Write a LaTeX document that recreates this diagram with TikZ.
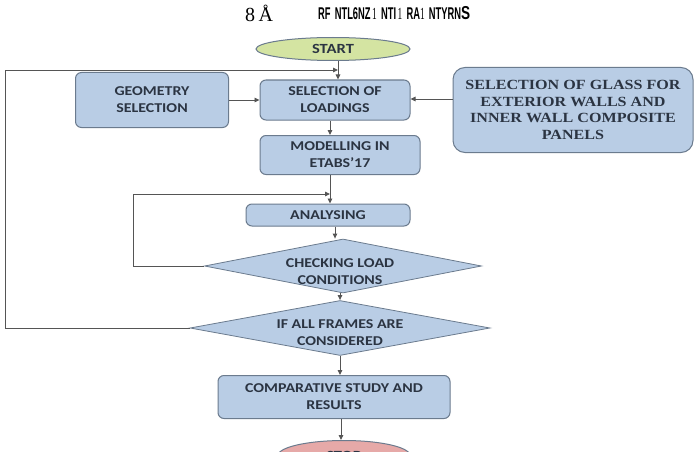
\documentclass[tikz,border=0pt]{standalone}
\usepackage{fontspec}
\setmainfont{Carlito}
\newfontfamily\boxf[FakeStretch=1.18]{Carlito}
\newfontfamily\timesf[FakeStretch=1.15]{Liberation Serif}
\newfontfamily\timesplain{Liberation Serif}
\newfontfamily\titlef{Liberation Sans}
\usetikzlibrary{arrows.meta,shapes.geometric}
\definecolor{boxfill}{HTML}{B9CDE5}
\definecolor{boxline}{HTML}{6B7B8E}
\definecolor{txt}{HTML}{2B3442}
\definecolor{startfill}{HTML}{D4E4A2}
\definecolor{stopfill}{HTML}{E6A9A8}
\definecolor{wire}{HTML}{555555}
\tikzset{
  procbox/.style={draw=boxline, fill=boxfill, rounded corners=6pt, line width=1pt,
    text=txt, align=center, font=\boxf\bfseries\fontsize{13.5}{17}\selectfont, inner sep=0pt},
  decbox/.style={draw=boxline, fill=boxfill, diamond, line width=0.8pt, inner sep=0pt},
  dectext/.style={text=txt, align=center, font=\boxf\bfseries\fontsize{13.5}{17}\selectfont},
  termin/.style={draw=boxline, ellipse, line width=1pt, text=txt, font=\boxf\bfseries\fontsize{14}{16}\selectfont, inner sep=0pt},
  wireline/.style={draw=wire, line width=0.9pt},
  flow/.style={wireline, -{Triangle[length=5pt,width=4.5pt]}},
}
\begin{document}
\begin{tikzpicture}[x=1pt,y=-1pt]
\useasboundingbox (0,0) rectangle (696,452);
\fill[white] (0,0) rectangle (696,452);
% garbled title
\node[anchor=west, inner sep=0pt, font=\timesplain\fontsize{20}{20}\selectfont] (t1) at (245,13) {8\,Å};
\node[anchor=west, inner sep=0pt, font=\titlef\bfseries\fontsize{17}{17}\selectfont] (t2) at (318,13)
  {\scalebox{0.55}[1]{RF\, NTL6NZ\,{\timesplain\mdseries 1}\, NTI\,{\timesplain\mdseries 1}\, RA{\timesplain\mdseries 1}\, NTYRN}\scalebox{0.8}[1.1]{S}};
% nodes
\node[termin, fill=startfill, minimum width=154pt, minimum height=23pt] (start) at (333,49) {START};
\node[procbox, minimum width=150pt, minimum height=40pt] (load) at (335,100) {SELECTION OF\\LOADINGS};
\node[procbox, minimum width=153pt, minimum height=55pt] (geo) at (152,100) {GEOMETRY\\SELECTION};
\node[procbox, rounded corners=12pt, minimum width=240pt, minimum height=85pt,
  font=\timesf\bfseries\fontsize{14}{16.7}\selectfont] (glass) at (573,110)
  {SELECTION OF GLASS FOR\\EXTERIOR WALLS AND\\INNER WALL COMPOSITE\\PANELS};
\node[procbox, minimum width=160pt, minimum height=39pt] (model) at (340,155) {MODELLING IN\\ETABS’17};
\node[procbox, minimum width=164pt, minimum height=22pt] (anal) at (328,215) {ANALYSING};
\node[decbox, minimum width=277pt, minimum height=54pt] (check) at (343,266) {};
\node[dectext] (checkt) at (340,272) {CHECKING LOAD\\CONDITIONS};
\node[decbox, minimum width=300pt, minimum height=55pt] (frames) at (340,328) {};
\node[dectext] (framest) at (340,333) {IF ALL FRAMES ARE\\CONSIDERED};
\node[procbox, minimum width=232pt, minimum height=43pt] (comp) at (334,397) {COMPARATIVE STUDY AND\\RESULTS};
\node[termin, fill=stopfill, minimum width=132pt, minimum height=30pt, anchor=north] (stop) at (344,440) {STOP};
% junction coordinates
\coordinate (j1) at (338,70);
\coordinate (j2) at (330,194);
% connectors
\draw[wireline] (start.south -| j1) -- (j1);
\draw[flow] (j1) -- (load.north -| j1);
\draw[flow] (frames.west) -- (5,328) -- (5,70) -- (j1);
\draw[flow] (geo.east) -- (load.west);
\draw[flow] (glass.west |- 0,99) -- (load.east |- 0,99);
\draw[flow] (load.south -| 330,0) -- (model.north -| 330,0);
\draw[wireline] (model.south -| j2) -- (j2);
\draw[flow] (j2) -- (anal.north -| j2);
\draw[flow] (check.west) -- (133,266) -- (133,194) -- (j2);
\draw[flow] (anal.south -| 335,0) -- (check.north -| 335,0);
\draw[flow] (check.south -| 340,0) -- (frames.north);
\draw[flow] (frames.south) -- (comp.north -| frames.south);
\draw[flow] (comp.south -| 341,0) -- (stop.north -| 341,0);
\end{tikzpicture}
\end{document}
